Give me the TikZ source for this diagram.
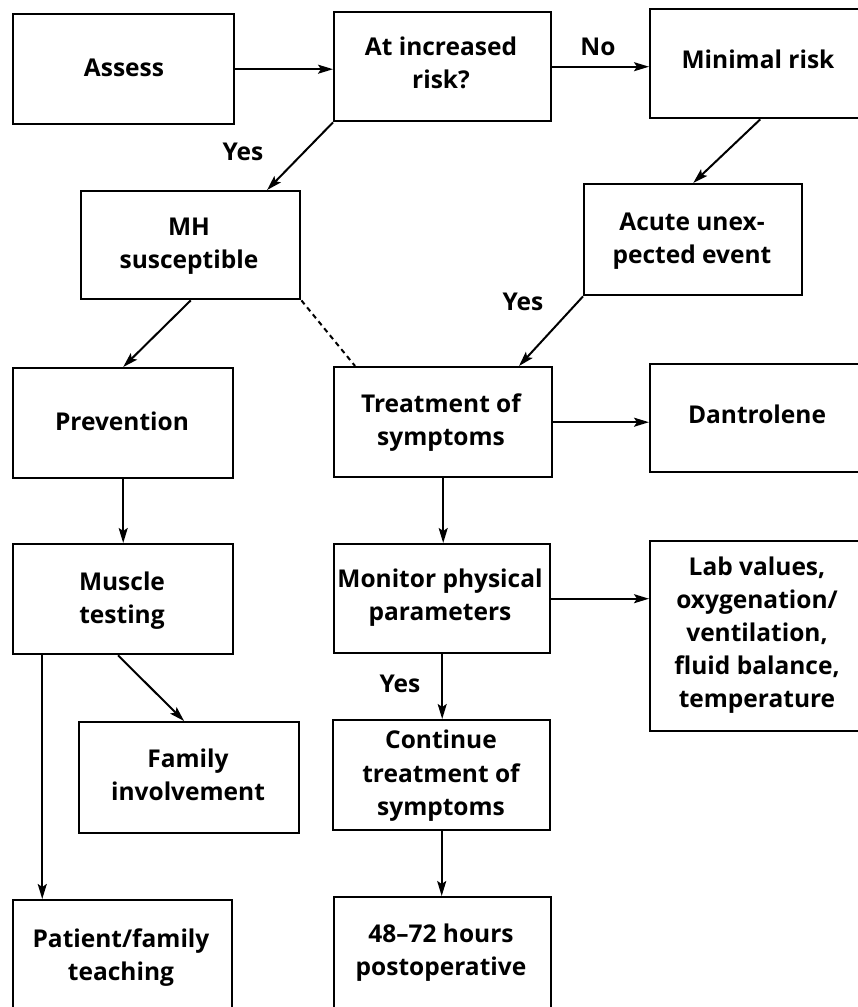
\documentclass[tikz,border=0pt]{standalone}
\usepackage{fontspec}
\setmainfont{Open Sans}
\usetikzlibrary{arrows.meta,calc}
\tikzset{
  x=1pt, y=-1pt,
  box/.style={draw, line width=2.4pt, inner sep=0pt, anchor=north west},
  txt/.style={font=\bfseries\fontsize{24.5}{33}\selectfont, anchor=base, inner sep=0pt},
  arr/.style={line width=2pt, -{Stealth[length=15pt,width=9pt,inset=3pt]}},
  conn/.style={line width=2pt},
}
\begin{document}
\begin{tikzpicture}
\useasboundingbox (0,0) rectangle (858,1007);
\clip (0,0) rectangle (858,1007);
% boxes
\node[box, minimum width=221pt, minimum height=110pt] (assess) at (12,13) {};
\node[box, minimum width=217pt, minimum height=109pt] (atrisk) at (333,11) {};
\node[box, minimum width=220pt, minimum height=109pt] (minimal) at (649,8) {};
\node[box, minimum width=219pt, minimum height=108pt] (mh) at (80,190) {};
\node[box, minimum width=218pt, minimum height=111pt] (acute) at (583,183) {};
\node[box, minimum width=220pt, minimum height=110pt] (prev) at (12,367) {};
\node[box, minimum width=218pt, minimum height=110pt] (treat) at (333,366) {};
\node[box, minimum width=220pt, minimum height=108pt] (dant) at (649,363) {};
\node[box, minimum width=220pt, minimum height=110pt] (muscle) at (12,543) {};
\node[box, minimum width=216pt, minimum height=109pt] (monitor) at (333,543) {};
\node[box, minimum width=220pt, minimum height=190pt] (lab) at (649,540) {};
\node[box, minimum width=220pt, minimum height=111pt] (family) at (78,721) {};
\node[box, minimum width=217pt, minimum height=110pt] (cont) at (332,719) {};
\node[box, minimum width=219pt, minimum height=125pt] (patient) at (12,899) {};
\node[box, minimum width=217pt, minimum height=125pt] (post) at (333,896) {};
% texts
\node[txt] (t-assess) at (124,76) {Assess};
\node[txt] (t-atrisk1) at (441,55) {At increased};
\node[txt] (t-atrisk2) at (441,88) {risk?};
\node[txt] (t-minimal) at (758,68) {Minimal risk};
\node[txt] (t-mh1) at (189,235) {MH};
\node[txt] (t-mh2) at (189,268) {susceptible};
\node[txt] (t-acute1) at (692,230) {Acute unex-};
\node[txt] (t-acute2) at (692,263) {pected event};
\node[txt] (t-prev) at (122,430) {Prevention};
\node[txt] (t-treat1) at (441,412) {Treatment of};
\node[txt] (t-treat2) at (441,445) {symptoms};
\node[txt] (t-dant) at (757,423) {Dantrolene};
\node[txt] (t-muscle1) at (122,590) {Muscle};
\node[txt] (t-muscle2) at (122,623) {testing};
\node[txt] (t-mon1) at (440,587) {Monitor physical};
\node[txt] (t-mon2) at (440,620) {parameters};
\node[txt] (t-lab1) at (757,575) {Lab values,};
\node[txt] (t-lab2) at (757,608) {oxygenation/};
\node[txt] (t-lab3) at (757,641) {ventilation,};
\node[txt] (t-lab4) at (757,674) {fluid balance,};
\node[txt] (t-lab5) at (757,707) {temperature};
\node[txt] (t-fam1) at (188,767) {Family};
\node[txt] (t-fam2) at (188,800) {involvement};
\node[txt] (t-cont1) at (441,748) {Continue};
\node[txt] (t-cont2) at (441,782) {treatment of};
\node[txt] (t-cont3) at (441,815) {symptoms};
\node[txt] (t-pat1) at (121,947) {Patient/family};
\node[txt] (t-pat2) at (121,980) {teaching};
\node[txt] (t-post1) at (441,942) {48–72 hours};
\node[txt] (t-post2) at (441,975) {postoperative};
% labels
\node[txt] (l-yes1) at (243,160) {Yes};
\node[txt] (l-no) at (598,55) {No};
\node[txt] (l-yes2) at (523,310) {Yes};
\node[txt] (l-yes3) at (400,692) {Yes};
% connectors
\draw[arr] (assess.east) -- (assess.east -| atrisk.west);
\draw[arr] (atrisk.east) -- (atrisk.east -| minimal.west);
\draw[arr] (atrisk.south west) -- ($(mh.north west)!0.845!(mh.north east)$);
\draw[arr] (minimal.south) -- (acute.north);
\draw[arr] (acute.south west) -- ($(treat.north west)!0.844!(treat.north east)$);
\draw[arr] (mh.south) -- (prev.north);
\draw[conn, dash pattern=on 5pt off 4pt] (mh.south east) -- ($(treat.north west)!0.1!(treat.north east)$);
\draw[arr] (treat.east) -- (treat.east -| dant.west);
\draw[arr] (prev.south) -- (muscle.north);
\draw[arr] (treat.south) -- (treat.south |- monitor.north);
\draw[arr] (monitor.east) -- (monitor.east -| lab.west);
\draw[arr] (monitor.south) -- (monitor.south |- cont.north);
\draw[arr] (cont.south) -- (cont.south |- post.north);
\coordinate (m1) at ($(muscle.south west)!0.136!(muscle.south east)$);
\coordinate (m2) at ($(muscle.south west)!0.477!(muscle.south east)$);
\draw[arr] (m1) -- (m1 |- patient.north);
\draw[arr] (m2) -- ($(family.north west)!0.477!(family.north east)$);
\end{tikzpicture}
\end{document}
